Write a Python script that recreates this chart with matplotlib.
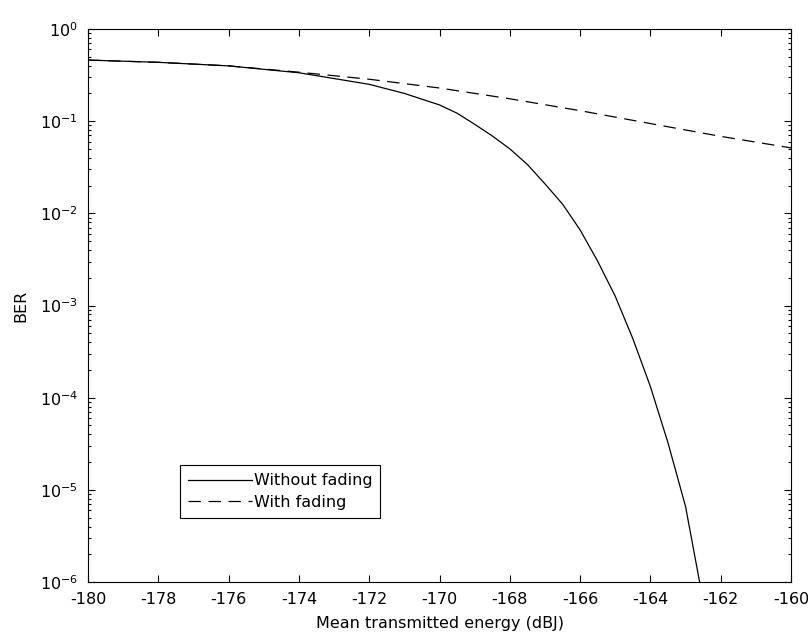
import matplotlib
matplotlib.use("Agg")
import matplotlib.pyplot as plt
from matplotlib.ticker import LogLocator, NullFormatter, FixedLocator

# Data
x_nofade = [-180, -178, -176, -174, -172, -171, -170, -169.5, -169, -168.5,
            -168, -167.5, -167, -166.5, -166, -165.5, -165, -164.5, -164,
            -163.5, -163, -162.6]
ber_nofade = [0.460, 0.435, 0.398, 0.335, 0.251, 0.200, 0.150, 0.122, 0.0925,
              0.0692, 0.0501, 0.0339, 0.0209, 0.0126, 0.00661, 0.00302,
              0.00126, 4.37e-4, 1.32e-4, 3.24e-5, 6.6e-6, 1.0e-6]

x_fade = [-180, -178, -176, -174, -172, -170, -168, -166, -164, -162, -160]
ber_fade = [0.460, 0.435, 0.398, 0.340, 0.285, 0.229, 0.175, 0.130, 0.0942,
            0.0684, 0.0513]

x_ticks = list(range(-180, -159, 2))
y_ticks = [1e-6, 1e-5, 1e-4, 1e-3, 1e-2, 1e-1, 1e0]
labels = ["Without fading", "With fading"]
xlabel = "Mean transmitted energy (dBJ)"
ylabel = "BER"

plt.rcParams['font.family'] = ['DejaVu Sans']
plt.rcParams['mathtext.default'] = 'regular'
plt.rcParams['axes.unicode_minus'] = False

fig = plt.figure(figsize=(8.08, 6.39), dpi=100)
ax = fig.add_axes([88/808, 57/639, 703/808, 553/639])

ax.plot(x_nofade, ber_nofade, color='black', lw=0.9, label=labels[0])
ax.plot(x_fade, ber_fade, color='black', lw=0.9, dashes=(10, 6), label=labels[1])

ax.set_yscale('log')
ax.set_xlim(-180, -160)
ax.set_ylim(1e-6, 1)
ax.xaxis.set_major_locator(FixedLocator(x_ticks))
ax.yaxis.set_major_locator(FixedLocator(y_ticks))
ax.yaxis.set_minor_locator(LogLocator(base=10, subs=range(2, 10), numticks=20))
ax.yaxis.set_minor_formatter(NullFormatter())

ax.tick_params(which='both', direction='in', top=True, right=True,
               labelsize=11.5, width=0.8)
ax.tick_params(which='major', length=5, pad=7)
ax.tick_params(which='minor', length=2.5)
for s in ax.spines.values():
    s.set_linewidth(0.8)

ax.set_xlabel(xlabel, fontsize=11.5, labelpad=7)
ax.set_ylabel(ylabel, fontsize=11.5, labelpad=8)

leg = ax.legend(loc='lower left', bbox_to_anchor=(0.131, 0.116),
                borderaxespad=0, fancybox=False, edgecolor='black',
                framealpha=1, fontsize=11.5, handlelength=4.0,
                handletextpad=0.1, borderpad=0.5, labelspacing=0.4)
leg.get_frame().set_linewidth(0.8)

fig.savefig("out.png", dpi=100)
